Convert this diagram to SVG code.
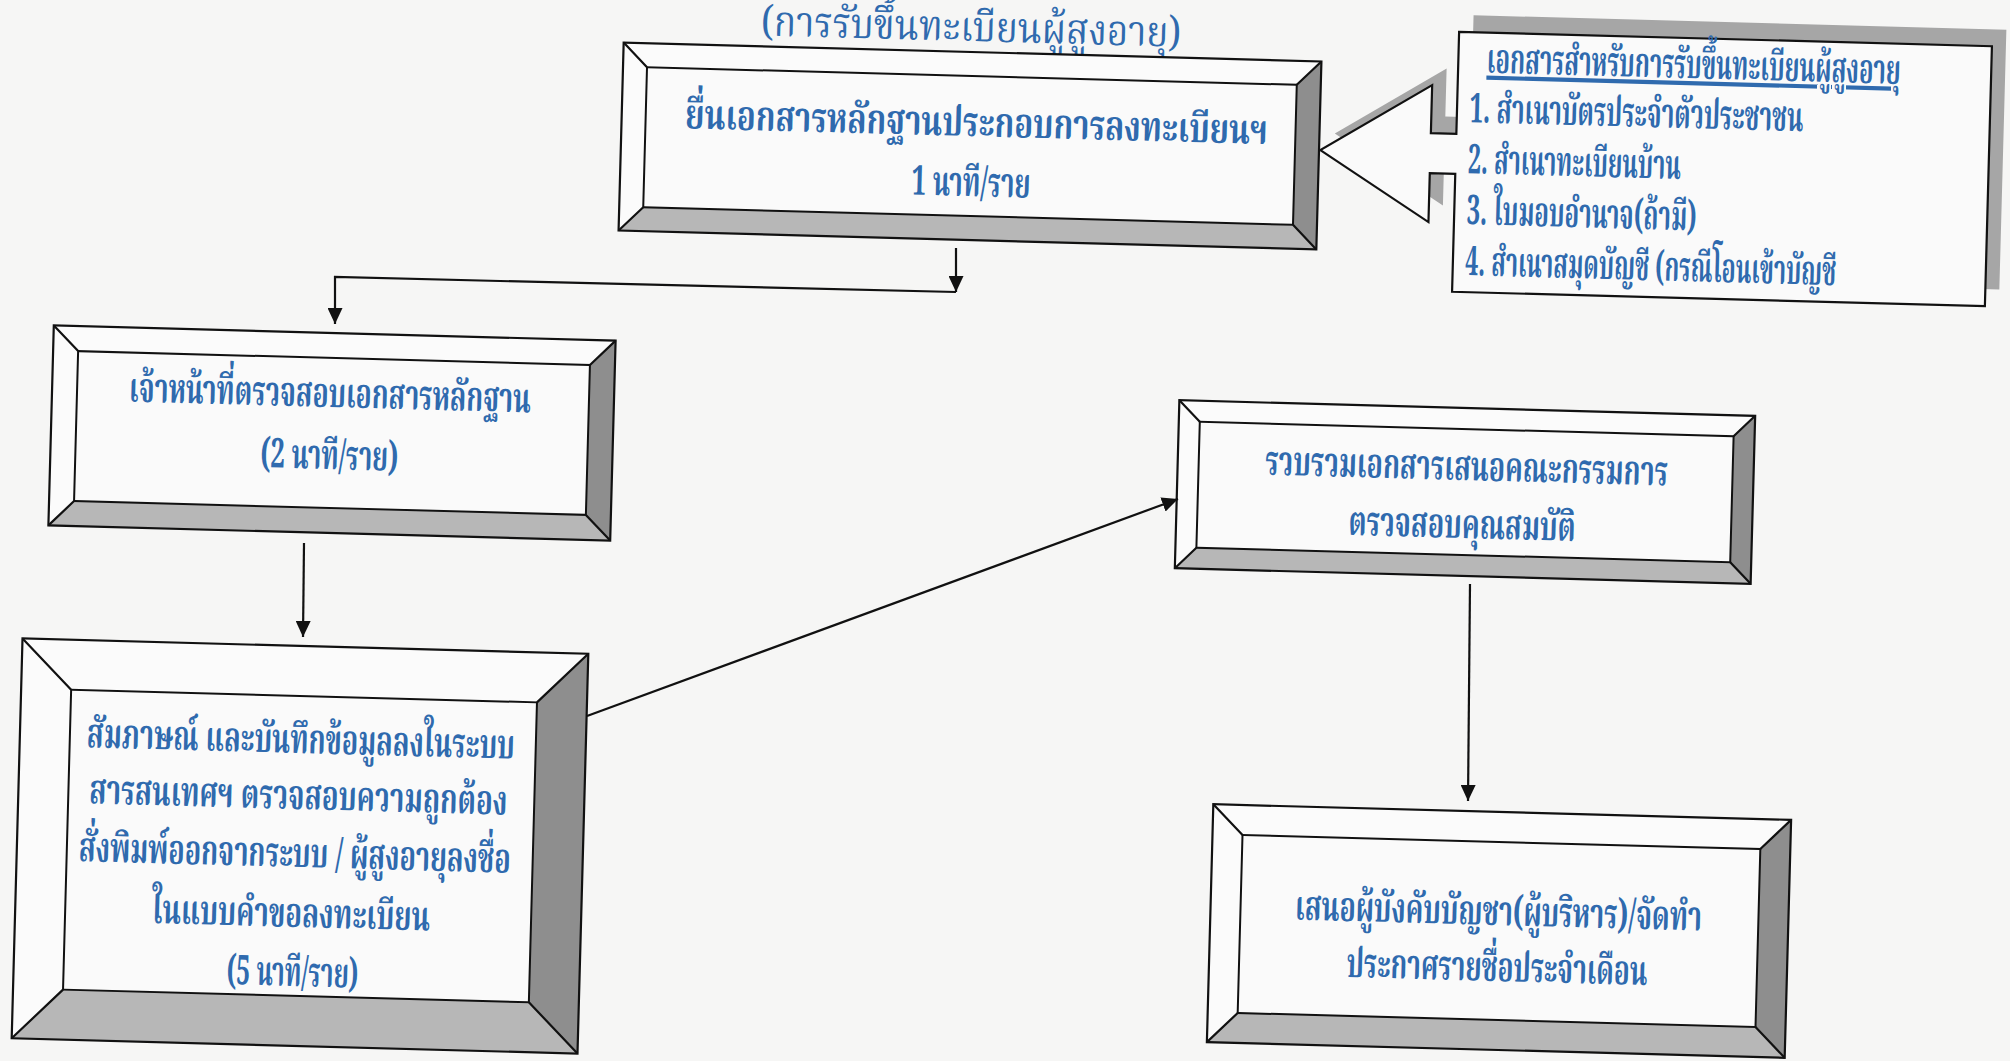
<svg xmlns="http://www.w3.org/2000/svg" width="2010" height="1061" viewBox="0 0 2010 1061">
<defs>
<style>
.t{font-family:"Norasi","Noto Serif Thai","Noto Sans Thai Looped","Noto Sans Thai","Liberation Serif",serif;font-weight:bold;fill:#2f6aae;font-size:41px;text-anchor:middle}
.ts{text-anchor:start}
.title{font-weight:normal;font-size:42px}
.edge{fill:none;stroke:#111;stroke-width:2.2;stroke-linejoin:miter}
.face{fill:#fafafa;stroke:#111;stroke-width:2}
.btl{fill:#fbfbfb}
.bb{fill:#b7b7b7}
.br{fill:#8e8e8e}
.con{fill:none;stroke:#111;stroke-width:2.2}
</style>
<marker id="ah" markerUnits="userSpaceOnUse" markerWidth="17" markerHeight="15" refX="16" refY="7.5" orient="auto">
<path d="M0,0 L16,7.5 L0,15 Z" fill="#111"/>
</marker>
</defs>
<rect width="2010" height="1061" fill="#f6f6f5"/>

<g id="title" transform="rotate(1.55 971 30)">
<text class="t title" x="971" y="41" textLength="420" lengthAdjust="spacingAndGlyphs">(การรับขึ้นทะเบียนผู้สูงอายุ)</text>
</g>

<g id="n1" transform="translate(970 146) rotate(1.55)">
<rect class="btl" x="-349" y="-94" width="698" height="188"/>
<polygon class="bb" points="-349,94 -325,70 325,70 349,94"/>
<polygon class="br" points="349,-94 349,94 325,70 325,-70"/>
<rect class="face" x="-325" y="-70" width="650" height="140"/>
<path class="edge" d="M-349,-94 L-325,-70 M349,-94 L325,-70 M349,94 L325,70 M-349,94 L-325,70"/>
<rect class="edge" x="-349" y="-94" width="698" height="188"/>
<text class="t" x="6" y="-10" font-size="43" textLength="583" lengthAdjust="spacingAndGlyphs">ยื่นเอกสารหลักฐานประกอบการลงทะเบียนฯ</text>
<text class="t" x="2" y="50" textLength="119" lengthAdjust="spacingAndGlyphs">1 นาที/ราย</text>
</g>

<g id="n2" transform="translate(1722 169) rotate(1.55)">
<path d="M-266.5,-130 H266.5 V130 H-266.5 V12 H-292 V61 L-402,-8 L-292,-76 V-28 H-266.5 Z" transform="translate(14 -17)" fill="#a6a6a6"/>
<path d="M-266.5,-130 H266.5 V130 H-266.5 V12 H-292 V61 L-402,-8 L-292,-76 V-28 H-266.5 Z" fill="#fafafa" stroke="#111" stroke-width="2.2"/>
<text class="t ts" x="-238" y="-90" font-size="35" text-decoration="underline" textLength="414" lengthAdjust="spacingAndGlyphs">เอกสารสำหรับการรับขึ้นทะเบียนผู้สูงอายุ</text>
<text class="t ts" x="-254" y="-40" font-size="36" textLength="334" lengthAdjust="spacingAndGlyphs">1. สำเนาบัตรประจำตัวประชาชน</text>
<text class="t ts" x="-254" y="11" font-size="36" textLength="213" lengthAdjust="spacingAndGlyphs">2. สำเนาทะเบียนบ้าน</text>
<text class="t ts" x="-254" y="62" font-size="36" textLength="230" lengthAdjust="spacingAndGlyphs">3. ใบมอบอำนาจ(ถ้ามี)</text>
<text class="t ts" x="-254" y="113" font-size="36" textLength="371" lengthAdjust="spacingAndGlyphs">4. สำเนาสมุดบัญชี (กรณีโอนเข้าบัญชี</text>
</g>

<g id="n3" transform="translate(332 433) rotate(1.55)">
<rect class="btl" x="-281" y="-100" width="562" height="200"/>
<polygon class="bb" points="-281,100 -256,75 256,75 281,100"/>
<polygon class="br" points="281,-100 281,100 256,75 256,-75"/>
<rect class="face" x="-256" y="-75" width="512" height="150"/>
<path class="edge" d="M-281,-100 L-256,-75 M281,-100 L256,-75 M281,100 L256,75 M-281,100 L-256,75"/>
<rect class="edge" x="-281" y="-100" width="562" height="200"/>
<text class="t" x="-3" y="-26" textLength="402" lengthAdjust="spacingAndGlyphs">เจ้าหน้าที่ตรวจสอบเอกสารหลักฐาน</text>
<text class="t" x="-2" y="36" textLength="138" lengthAdjust="spacingAndGlyphs">(2 นาที/ราย)</text>
</g>

<g id="n4" transform="translate(1465 492) rotate(1.55)">
<rect class="btl" x="-288" y="-84" width="576" height="168"/>
<polygon class="bb" points="-288,84 -267,63 267,63 288,84"/>
<polygon class="br" points="288,-84 288,84 267,63 267,-63"/>
<rect class="face" x="-267" y="-63" width="534" height="126"/>
<path class="edge" d="M-288,-84 L-267,-63 M288,-84 L267,-63 M288,84 L267,63 M-288,84 L-267,63"/>
<rect class="edge" x="-288" y="-84" width="576" height="168"/>
<text class="t" x="1" y="-12" textLength="403" lengthAdjust="spacingAndGlyphs">รวบรวมเอกสารเสนอคณะกรรมการ</text>
<text class="t" x="-2" y="46" textLength="227" lengthAdjust="spacingAndGlyphs">ตรวจสอบคุณสมบัติ</text>
</g>

<g id="n5" transform="translate(300 846) rotate(1.55)">
<rect class="btl" x="-283" y="-200" width="566" height="400"/>
<polygon class="bb" points="-283,200 -233,150 233,150 283,200"/>
<polygon class="br" points="283,-200 283,200 233,150 233,-150"/>
<rect class="face" x="-233" y="-150" width="466" height="300"/>
<path class="edge" d="M-283,-200 L-233,-150 M283,-200 L233,-150 M283,200 L233,150 M-283,200 L-233,150"/>
<rect class="edge" x="-283" y="-200" width="566" height="400"/>
<text class="t" x="-2" y="-93" textLength="428" lengthAdjust="spacingAndGlyphs">สัมภาษณ์ และบันทึกข้อมูลลงในระบบ</text>
<text class="t" x="-3" y="-37" textLength="418" lengthAdjust="spacingAndGlyphs">สารสนเทศฯ ตรวจสอบความถูกต้อง</text>
<text class="t" x="-5" y="21" textLength="432" lengthAdjust="spacingAndGlyphs">สั่งพิมพ์ออกจากระบบ / ผู้สูงอายุลงชื่อ</text>
<text class="t" x="-7" y="81" textLength="278" lengthAdjust="spacingAndGlyphs">ในแบบคำขอลงทะเบียน</text>
<text class="t" x="-4" y="140" textLength="132" lengthAdjust="spacingAndGlyphs">(5 นาที/ราย)</text>
</g>

<g id="n6" transform="translate(1499 931) rotate(1.55)">
<rect class="btl" x="-289" y="-119" width="578" height="238"/>
<polygon class="bb" points="-289,119 -259,89 259,89 289,119"/>
<polygon class="br" points="289,-119 289,119 259,89 259,-89"/>
<rect class="face" x="-259" y="-89" width="518" height="178"/>
<path class="edge" d="M-289,-119 L-259,-89 M289,-119 L259,-89 M289,119 L259,89 M-289,119 L-259,89"/>
<rect class="edge" x="-289" y="-119" width="578" height="238"/>
<text class="t" x="-1" y="-6" textLength="407" lengthAdjust="spacingAndGlyphs">เสนอผู้บังคับบัญชา(ผู้บริหาร)/จัดทำ</text>
<text class="t" x="-1" y="50" textLength="301" lengthAdjust="spacingAndGlyphs">ประกาศรายชื่อประจำเดือน</text>
</g>

<g id="connectors">
<path class="con" d="M956,248 L956,292" marker-end="url(#ah)"/>
<path class="con" d="M956,292 L335,277 L335,324" marker-end="url(#ah)"/>
<path class="con" d="M304,543 L303,637" marker-end="url(#ah)"/>
<path class="con" d="M587,716 L1178,499" marker-end="url(#ah)"/>
<path class="con" d="M1470,584 L1468,801" marker-end="url(#ah)"/>
</g>
</svg>
